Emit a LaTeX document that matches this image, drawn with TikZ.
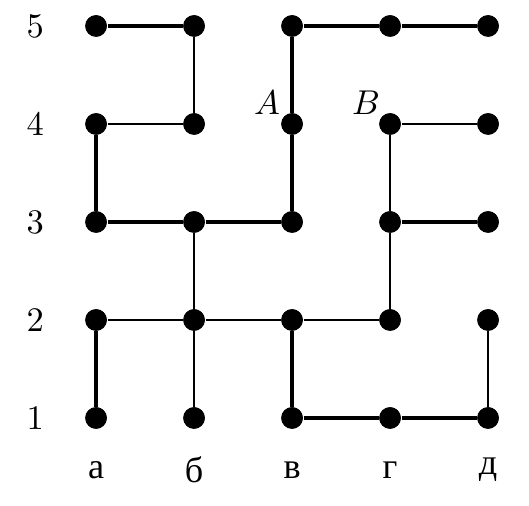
\documentclass[tikz,border=0pt]{standalone}
\usepackage{fontspec}
\newfontfamily\cyr{Liberation Serif}[Scale=1.05]
\usepackage{tikz}
\usetikzlibrary{positioning, calc}

\begin{document}
\begin{tikzpicture}[
  dot/.style={circle, fill=black, inner sep=0pt, minimum size=0.22cm},
  heavy/.style={line width=1pt},
  light/.style={line width=0.6pt},
  lab/.style={inner sep=0pt, font=\normalsize}]
  \useasboundingbox (-0.980,-0.888) rectangle (4.418,4.265);
  % grid points
  \foreach \c/\i in {a/0, b/1, v/2, g/3, d/4}
    \foreach \r in {1,...,5}
      \node[dot] (\c\r) at (\i,\r-1) {};
  % row numbers and column letters
  \foreach \r in {1,...,5}
    \node[lab] (row\r) at (-0.62,\r-1) {\r};
  \foreach \c/\i/\t in {a/0/а, b/1/б, v/2/в, g/3/г, d/4/д}
    \node[lab] (col\c) at (\i,-0.53) {\cyr\t};
  % marked points
  \node[lab] (A) at ($(v4)+(-0.255,0.214)$) {$A$};
  \node[lab] (B) at ($(g4)+(-0.245,0.214)$) {$B$};
  % heavy edges
  \draw[heavy] (a5) -- (b5);
  \draw[heavy] (v3) -- (v4) -- (v5) -- (g5) -- (d5);
  \draw[heavy] (a4) -- (a3) -- (b3) -- (v3);
  \draw[heavy] (g3) -- (d3);
  \draw[heavy] (a2) -- (a1);
  \draw[heavy] (v2) -- (v1) -- (g1) -- (d1);
  % light edges
  \draw[light] (a4) -- (b4) -- (b5);
  \draw[light] (d4) -- (g4) -- (g3) -- (g2);
  \draw[light] (b3) -- (b2) -- (b1);
  \draw[light] (a2) -- (b2) -- (v2) -- (g2);
  \draw[light] (d2) -- (d1);
  % dots on top
  \foreach \c/\i in {a/0, b/1, v/2, g/3, d/4}
    \foreach \r in {1,...,5}
      \fill (\c\r) circle (0.11cm);
\end{tikzpicture}
\end{document}
